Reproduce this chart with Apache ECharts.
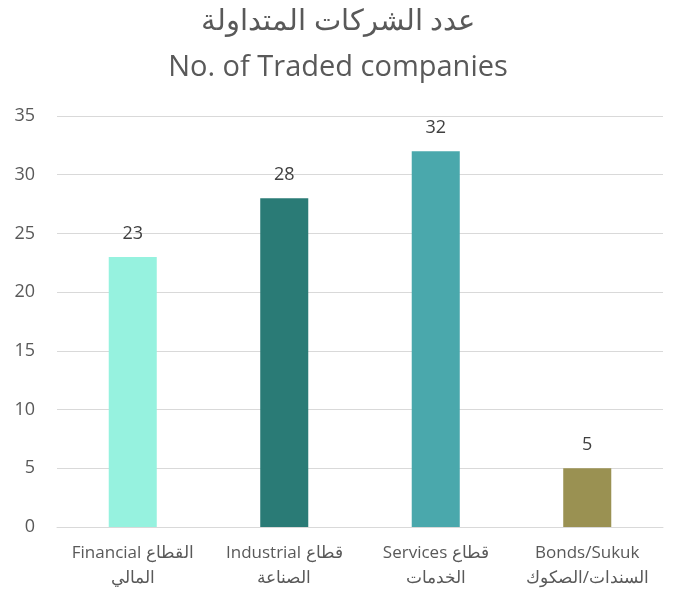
<!DOCTYPE html>
<html>
<head>
<meta charset="utf-8">
<script src="https://cdn.jsdelivr.net/npm/echarts@6/dist/echarts.min.js"></script>
<style>
  html, body { margin: 0; padding: 0; background: #fff; }
  #chart { width: 676px; height: 596px; }
</style>
</head>
<body>
<div id="chart"></div>
<script>
// chart data
const categories = [
  'Financial القطاع\nالمالي',
  'Industrial قطاع\nالصناعة',
  'Services قطاع\nالخدمات',
  'Bonds/Sukuk\nالسندات/الصكوك'
];
const companies = [23, 28, 32, 5];
const barColors = ['#96F2DF', '#2A7B76', '#4AA8AC', '#9A9152'];
const yTicks = [0, 5, 10, 15, 20, 25, 30, 35];

const font = '"Open Sans", "Noto Sans", sans-serif';

const chart = echarts.init(document.getElementById('chart'), null, { renderer: 'canvas' });

chart.setOption({
  animation: false,
  title: {
    text: 'عدد الشركات المتداولة\nNo. of Traded companies',
    left: 'center',
    top: -6,
    textStyle: {
      fontFamily: font,
      fontSize: 29,
      fontWeight: 'normal',
      color: '#595959',
      lineHeight: 46
    }
  },
  grid: { left: 57, right: 13, top: 116, bottom: 69 },
  xAxis: {
    type: 'category',
    data: categories,
    axisTick: { show: false },
    axisLine: { lineStyle: { color: '#d9d9d9', width: 1 } },
    axisLabel: {
      fontFamily: font,
      fontSize: 17,
      color: '#595959',
      lineHeight: 25,
      margin: 14,
      interval: 0
    }
  },
  yAxis: {
    type: 'value',
    min: yTicks[0],
    max: yTicks[yTicks.length - 1],
    interval: 5,
    axisLine: { show: false },
    axisTick: { show: false },
    splitLine: { lineStyle: { color: '#d9d9d9', width: 1 } },
    axisLabel: {
      fontFamily: font,
      fontSize: 18,
      color: '#595959',
      margin: 22
    }
  },
  series: [{
    type: 'bar',
    barWidth: '31.7%',
    data: companies.map((v, i) => ({ value: v, itemStyle: { color: barColors[i] } })),
    label: {
      show: true,
      position: 'top',
      distance: 14,
      fontFamily: font,
      fontSize: 18,
      color: '#404040'
    }
  }]
});
</script>
</body>
</html>
